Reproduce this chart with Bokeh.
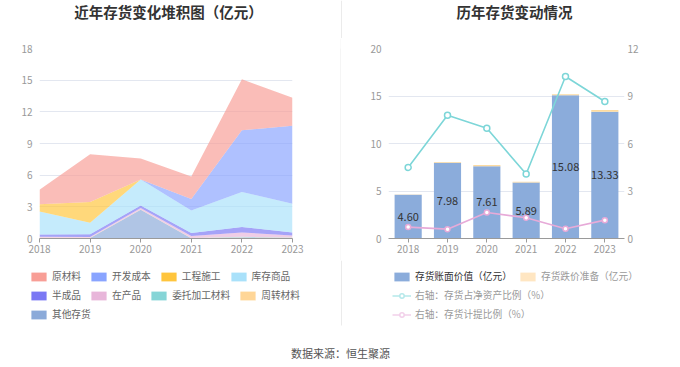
from bokeh.plotting import figure
from bokeh.models import (ColumnDataSource, FixedTicker, LinearAxis, Range1d, Label,
                          Legend, LegendItem, BoxAnnotation)
from bokeh.layouts import row, column
from bokeh.embed import file_html
from bokeh.resources import INLINE
from bokeh.core.properties import value

FONT = "Noto Sans CJK SC"

# ---------------- data ----------------
years = [2018, 2019, 2020, 2021, 2022, 2023]

# stacked inventory composition (亿元)
raw_material = [1.37, 4.53, 2.00, 2.12, 4.83, 2.67]     # 原材料
dev_cost = [0.00, 0.00, 0.00, 1.10, 5.85, 7.37]         # 开发成本
construction = [0.70, 1.96, 0.00, 0.00, 0.00, 0.00]     # 工程施工
goods = [2.18, 1.08, 2.47, 2.12, 3.32, 2.72]            # 库存商品
semi_finished = [0.20, 0.26, 0.23, 0.29, 0.51, 0.29]    # 半成品
wip = [0.10, 0.08, 0.15, 0.20, 0.40, 0.20]              # 在产品
consigned = [0.00, 0.00, 0.00, 0.00, 0.05, 0.02]        # 委托加工材料
turnover = [0.02, 0.02, 0.02, 0.02, 0.02, 0.02]         # 周转材料
other = [0.05, 0.05, 2.72, 0.02, 0.10, 0.05]            # 其他存货

series_names = ["原材料", "开发成本", "工程施工", "库存商品", "半成品",
                "在产品", "委托加工材料", "周转材料", "其他存货"]
series_colors = ["#F89E96", "#89A4FF", "#FFC53D", "#A9E1FA", "#7B78F4",
                 "#E8B6DA", "#86D5D7", "#FFD697", "#8BAAD9"]

# inventory changes
book_value = [4.60, 7.98, 7.61, 5.89, 15.08, 13.33]      # 存货账面价值（亿元）
impairment = [0.04, 0.07, 0.12, 0.09, 0.10, 0.20]        # 存货跌价准备（亿元）
ratio_net_assets = [4.49, 7.78, 6.96, 4.07, 10.23, 8.65] # 存货占净资产比例（%）
provision_ratio = [0.72, 0.59, 1.64, 1.31, 0.61, 1.16]   # 存货计提比例（%）

left_ticks = [0, 3, 6, 9, 12, 15, 18]
right_left_ticks = [0, 5, 10, 15, 20]
right_right_ticks = [0, 3, 6, 9, 12]

TICK_COLOR = "#999999"
GRID_COLOR = "#E3E7F0"
SEP_COLOR = "#EBEBEB"

W = 680
TITLE_H = 38
CHART_H = 222
LEG_H = 107


def base_style(p):
    p.outline_line_color = None
    p.background_fill_color = "white"
    p.border_fill_color = "white"
    p.xgrid.grid_line_color = None
    p.ygrid.grid_line_color = GRID_COLOR
    for ax in p.xaxis:
        ax.ticker = FixedTicker(ticks=years)
        ax.axis_line_color = "#9A9A9A"
        ax.major_tick_line_color = "#9A9A9A"
        ax.major_tick_out = 4
        ax.major_tick_in = 0
        ax.minor_tick_line_color = None
        ax.major_label_standoff = 2
        ax.major_label_text_color = TICK_COLOR
        ax.major_label_text_font = FONT
        ax.major_label_text_font_size = "10px"
    for ax in p.yaxis:
        ax.axis_line_color = None
        ax.major_tick_line_color = None
        ax.minor_tick_line_color = None
        ax.major_tick_out = 0
        ax.major_tick_in = 0
        ax.major_label_standoff = 7
        ax.major_label_text_color = TICK_COLOR
        ax.major_label_text_font = FONT
        ax.major_label_text_font_size = "10px"


def blank_fig(w, h):
    p = figure(width=w, height=h, output_backend="svg", toolbar_location=None,
               x_axis_type=None, y_axis_type=None,
               x_range=Range1d(0, w), y_range=Range1d(0, h),
               min_border=0, min_border_left=0, min_border_right=0,
               min_border_top=0, min_border_bottom=0)
    p.outline_line_color = None
    p.background_fill_color = "white"
    p.border_fill_color = "white"
    p.grid.visible = False
    return p


def add_label(p, x, y, text, size="10px", color="#666666", bold=False, align="center"):
    p.add_layout(Label(x=x, y=y, x_units="screen", y_units="screen", text=text,
                       text_font=FONT, text_font_size=size, text_color=color,
                       text_font_style="bold" if bold else "normal",
                       text_align=align, text_baseline="middle"))


def make_legend(items, vx, vy, color):
    return Legend(items=items, location=(vx, vy), orientation="horizontal",
                  spacing=8, label_standoff=4, glyph_width=19, glyph_height=11,
                  label_height=11, padding=0, margin=0,
                  background_fill_alpha=0, border_line_color=None,
                  inactive_fill_alpha=0,
                  label_text_font=FONT, label_text_font_size="9.7px",
                  label_text_color=color, label_text_baseline="middle")


# ---------------- title band ----------------
tb = blank_fig(W, TITLE_H)
add_label(tb, 168, 27, "近年存货变化堆积图（亿元）", size="14.5px", color="#333333", bold=True)
add_label(tb, 514, 27, "历年存货变动情况", size="14.5px", color="#333333", bold=True)
tb.add_layout(BoxAnnotation(left=340.5, right=341.5, bottom=0, top=TITLE_H,
                            fill_color=SEP_COLOR, fill_alpha=1, line_color=None))

# ---------------- left: stacked area ----------------
p1 = figure(width=340, height=CHART_H, output_backend="svg", toolbar_location=None,
            x_range=Range1d(2018, 2023), y_range=Range1d(0, 18),
            min_border_left=39, min_border_right=48, min_border_top=10,
            min_border_bottom=22)
base_style(p1)
p1.yaxis.ticker = FixedTicker(ticks=left_ticks)
p1.ygrid.ticker = FixedTicker(ticks=left_ticks)

stack_data = dict(x=years)
stack_data.update({"原材料": raw_material, "开发成本": dev_cost, "工程施工": construction,
                   "库存商品": goods, "半成品": semi_finished, "在产品": wip,
                   "委托加工材料": consigned, "周转材料": turnover, "其他存货": other})
src1 = ColumnDataSource(stack_data)

stack_order = list(reversed(series_names))  # bottom -> top
stack_colors = [series_colors[series_names.index(n)] for n in stack_order]
p1.varea_stack(stackers=stack_order, x="x", color=stack_colors, fill_alpha=0.68,
               source=src1)

# ---------------- separator ----------------
sep = figure(width=1, height=CHART_H, output_backend="svg", toolbar_location=None,
             x_axis_type=None, y_axis_type=None, min_border=0)
sep.outline_line_color = None
sep.grid.visible = False
sep.background_fill_color = SEP_COLOR
sep.border_fill_color = SEP_COLOR

# ---------------- right: bars + lines ----------------
p2 = figure(width=339, height=CHART_H, output_backend="svg", toolbar_location=None,
            x_range=Range1d(2017.5, 2023.5), y_range=Range1d(0, 20),
            min_border_left=47, min_border_right=56, min_border_top=10,
            min_border_bottom=22)
p2.extra_y_ranges = {"right": Range1d(0, 12)}
p2.add_layout(LinearAxis(y_range_name="right"), "right")
base_style(p2)
p2.yaxis[0].ticker = FixedTicker(ticks=right_left_ticks)
p2.yaxis[1].ticker = FixedTicker(ticks=right_right_ticks)
p2.yaxis[1].major_label_standoff = 3
p2.ygrid.ticker = FixedTicker(ticks=right_left_ticks)

bar_color = "#8BACDB"
imp_color = "#FDDBA0"
teal = "#7DD6D8"
pink = "#E7AAD8"

src2 = ColumnDataSource(dict(
    x=years, book=book_value, imp=impairment,
    mid=[v / 2 for v in book_value],
    lbl=["%.2f" % v for v in book_value],
    r1=ratio_net_assets, r2=provision_ratio))

p2.vbar_stack(["book", "imp"], x="x", width=0.69, color=[bar_color, imp_color],
              line_color=None, source=src2)
p2.text(x="x", y="mid", text="lbl", source=src2, text_align="center",
        text_baseline="middle", text_font=value(FONT), text_font_size="11px",
        text_color="#333333")
p2.line("x", "r1", source=src2, y_range_name="right", line_color=teal, line_width=1.6)
p2.scatter("x", "r1", source=src2, y_range_name="right", size=6,
           fill_color="white", line_color=teal, line_width=1.5)
p2.line("x", "r2", source=src2, y_range_name="right", line_color=pink, line_width=1.6)
p2.scatter("x", "r2", source=src2, y_range_name="right", size=5,
           fill_color="white", line_color=pink, line_width=1.5)

# ---------------- legend band ----------------
lb = blank_fig(W, LEG_H)
dummies = {}
for n, c in zip(series_names, series_colors):
    dummies[n] = lb.vbar(x="x", top=n, width=0.5, source=src1,
                         fill_color=c, line_color=None, visible=False)
rows_left = [["原材料", "开发成本", "工程施工", "库存商品"],
             ["半成品", "在产品", "委托加工材料", "周转材料"],
             ["其他存货"]]
for names, vy in zip(rows_left, [84, 65, 46]):
    items = [LegendItem(label=n, renderers=[dummies[n]]) for n in names]
    lb.add_layout(make_legend(items, 29, vy, "#666666"))

d_book = lb.vbar(x="x", top="book", width=0.5, source=src2, fill_color=bar_color,
                 line_color=None, visible=False)
d_imp = lb.vbar(x="x", top="imp", width=0.5, source=src2, fill_color="#FFE6C2",
                line_color=None, visible=False)
d_l1 = lb.line("x", "r1", source=src2, line_color="#B5E8EA", line_width=1.5, visible=False)
d_s1 = lb.scatter("x", "r1", source=src2, size=9, fill_color="white",
                  line_color="#B5E8EA", line_width=1.5, visible=False)
d_l2 = lb.line("x", "r2", source=src2, line_color="#F2D0EA", line_width=1.5, visible=False)
d_s2 = lb.scatter("x", "r2", source=src2, size=9, fill_color="white",
                  line_color="#F2D0EA", line_width=1.5, visible=False)

lb.add_layout(make_legend([LegendItem(label="存货账面价值（亿元）", renderers=[d_book])],
                          392, 84, "#333333"))
lb.add_layout(make_legend([LegendItem(label="存货跌价准备（亿元）", renderers=[d_imp])],
                          518, 84, "#9A9A9A"))
lb.add_layout(make_legend([LegendItem(label="右轴：存货占净资产比例（%）", renderers=[d_l1, d_s1])],
                          392, 65, "#9A9A9A"))
lb.add_layout(make_legend([LegendItem(label="右轴：存货计提比例（%）", renderers=[d_l2, d_s2])],
                          392, 46, "#9A9A9A"))
lb.add_layout(BoxAnnotation(left=340.5, right=341.5, bottom=LEG_H - 65, top=LEG_H,
                            fill_color=SEP_COLOR, fill_alpha=1, line_color=None))
add_label(lb, 340, 15, "数据来源：恒生聚源", size="11px", color="#555555")

layout = column(tb, row(p1, sep, p2), lb)
open("out.html", "w").write(file_html(layout, INLINE))
